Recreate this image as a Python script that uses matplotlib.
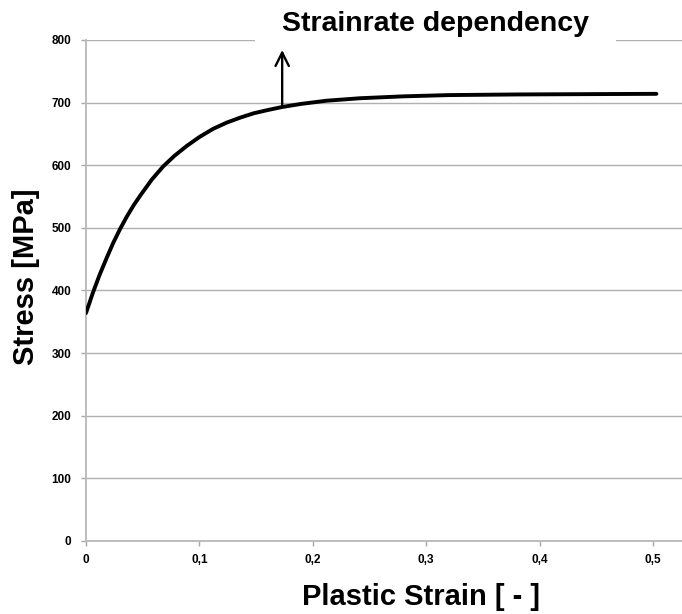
import matplotlib.pyplot as plt

plt.rcParams['font.family'] = ['Liberation Sans', 'DejaVu Sans']

# plastic strain [-] vs stress [MPa]
strain = [0, 0.006, 0.012, 0.018, 0.024, 0.030, 0.036, 0.042, 0.048, 0.058,
          0.068, 0.078, 0.089, 0.100, 0.112, 0.124, 0.136, 0.148, 0.160, 0.173,
          0.190, 0.212, 0.242, 0.280, 0.320, 0.380, 0.440, 0.503]
stress = [364, 396, 425, 451, 476, 498, 518, 536, 552, 577,
          598, 615, 631, 645, 658, 668, 676, 683, 688, 693,
          698, 703, 707, 710, 712, 713, 713.5, 714]

yticks = [0, 100, 200, 300, 400, 500, 600, 700, 800]
xticks = [0, 0.1, 0.2, 0.3, 0.4, 0.5]
xticklabels = ['0', '0,1', '0,2', '0,3', '0,4', '0,5']

arrow_x = 0.173
arrow_from = 694
arrow_to = 784

fig = plt.figure(figsize=(6.82, 6.14), dpi=100)
ax = fig.add_axes([0.1261, 0.1189, 0.8739, 0.816])

ax.plot(strain, stress, color='black', lw=2.8, solid_capstyle='round',
        solid_joinstyle='round', zorder=3)

ax.set_xlim(0, 0.5256)
ax.set_ylim(0, 800)
ax.set_yticks(yticks)
ax.set_xticks(xticks)
ax.set_xticklabels(xticklabels)
ax.tick_params(axis='both', labelsize=8.5, colors='#a8a8a8', length=3.6, width=1)
for lab in ax.get_xticklabels() + ax.get_yticklabels():
    lab.set_fontweight('bold')
    lab.set_color('black')
ax.tick_params(axis='x', pad=6)
ax.tick_params(axis='y', pad=7)

ax.grid(axis='y', color='#b0b0b0', lw=1)
ax.set_axisbelow(True)
for s in ['top', 'right']:
    ax.spines[s].set_visible(False)
for s in ['left', 'bottom']:
    ax.spines[s].set_color('#b8b8b8')
    ax.spines[s].set_linewidth(1.3)

ax.annotate('', xy=(arrow_x, arrow_to), xytext=(arrow_x, arrow_from),
            arrowprops=dict(arrowstyle='->', lw=1.7, color='black',
                            mutation_scale=24, shrinkA=0, shrinkB=0),
            zorder=6, annotation_clip=False)

ax.text(0.308, 826, 'Strainrate dependency', fontsize=20.5, fontweight='bold',
        ha='center', va='center', zorder=4, clip_on=False,
        bbox=dict(boxstyle='square,pad=0.95', fc='white', ec='none'))

fig.text(0.038, 0.55, 'Stress [MPa]', rotation=90, fontsize=21,
         fontweight='bold', ha='center', va='center')
fig.text(0.617, 0.027, 'Plastic Strain [ - ]', fontsize=21,
         fontweight='bold', ha='center', va='center')

fig.savefig('out.png', dpi=100)
